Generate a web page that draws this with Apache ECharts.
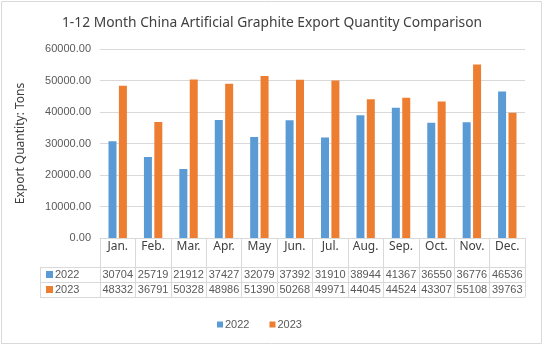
<!DOCTYPE html>
<html>
<head>
<meta charset="utf-8">
<script src="https://cdn.jsdelivr.net/npm/echarts@6/dist/echarts.min.js"></script>
<style>
html,body{margin:0;padding:0;background:#fff;}
#c{width:544px;height:347px;}
</style>
</head>
<body>
<div id="c"></div>
<script>
const titleText = '1-12 Month China Artificial Graphite Export Quantity Comparison';
const yAxisName = 'Export Quantity: Tons';
const months = ['Jan.','Feb.','Mar.','Apr.','May','Jun.','Jul.','Aug.','Sep.','Oct.','Nov.','Dec.'];
const seriesNames = ['2022','2023'];
const values2022 = [30704,25719,21912,37427,32079,37392,31910,38944,41367,36550,36776,46536];
const values2023 = [48332,36791,50328,48986,51390,50268,49971,44045,44524,43307,55108,39763];
const colors = ['#5b9bd5','#ed7d31'];

const chart = echarts.init(document.getElementById('c'), null, {renderer:'canvas'});
const lineCol = '#d9d9d9';
const numFont = 'Liberation Sans';
const txtFont = 'Noto Sans';

function rowAxis(data, offset, show) {
  return {
    type:'category', gridIndex:0, position:'bottom', offset: offset,
    data: data.map(String),
    axisLine:{show:true, lineStyle:{color:lineCol, width:1}},
    axisTick:{show: show, length:15, interval:0, alignWithLabel:false, lineStyle:{color:lineCol}},
    axisLabel:{show: show, interval:0, margin:2, fontSize:11, color:'#595959', fontFamily:numFont, verticalAlign:'top'},
    splitLine:{show:false}
  };
}

const option = {
  backgroundColor:'#fff',
  animation:false,
  title:{
    text:titleText, left:'center', top:11,
    textStyle:{fontFamily:txtFont, fontSize:13.8, fontWeight:'normal', color:'#404040'}
  },
  legend:{
    data:seriesNames, left:212, top:314, icon:'rect', itemWidth:6, itemHeight:6, itemGap:20,
    textStyle:{fontFamily:numFont, fontSize:11, color:'#595959', padding:[0,0,0,-3]}
  },
  grid:{left:100, right:19, top:49, bottom:109, containLabel:false},
  xAxis:[
    {
      type:'category', data:months, position:'bottom',
      axisLine:{show:true, lineStyle:{color:lineCol}},
      axisTick:{show:true, length:29, interval:0, alignWithLabel:false, lineStyle:{color:lineCol}},
      axisLabel:{interval:0, margin:3, fontSize:12, color:'#404040', fontFamily:txtFont, verticalAlign:'top'},
      splitLine:{show:false}
    },
    rowAxis(values2022, 29, true),
    rowAxis(values2023, 44, true),
    rowAxis(values2023, 59, false)
  ],
  yAxis:{
    type:'value', min:0, max:60000, interval:10000,
    name:yAxisName, nameLocation:'middle', nameGap:73, nameRotate:90,
    nameTextStyle:{fontFamily:txtFont, fontSize:12, color:'#404040'},
    axisLine:{show:false}, axisTick:{show:false},
    axisLabel:{formatter:v=>v.toFixed(2), fontSize:11, color:'#595959', fontFamily:numFont, margin:9},
    splitLine:{lineStyle:{color:lineCol}}
  },
  series:[
    {name:seriesNames[0], type:'bar', data:values2022, xAxisIndex:0, barWidth:8, barGap:'30%', itemStyle:{color:colors[0]}},
    {name:seriesNames[1], type:'bar', data:values2023, xAxisIndex:0, barWidth:8, barGap:'30%', itemStyle:{color:colors[1]}}
  ],
  graphic:[
    {type:'rect', shape:{x:1.5,y:1.5,width:540,height:342}, style:{fill:'none', stroke:lineCol, lineWidth:1}, silent:true},
    {type:'line', shape:{x1:40,y1:267.5,x2:100,y2:267.5}, style:{stroke:lineCol}},
    {type:'line', shape:{x1:40,y1:282.5,x2:100,y2:282.5}, style:{stroke:lineCol}},
    {type:'line', shape:{x1:40,y1:297.5,x2:100,y2:297.5}, style:{stroke:lineCol}},
    {type:'line', shape:{x1:40.5,y1:267,x2:40.5,y2:298}, style:{stroke:lineCol}},
    {type:'rect', shape:{x:46,y:271,width:7,height:7}, style:{fill:colors[0]}},
    {type:'rect', shape:{x:46,y:286,width:7,height:7}, style:{fill:colors[1]}},
    {type:'text', x:55, y:275, style:{text:seriesNames[0], font:'11px "Liberation Sans"', fill:'#595959', verticalAlign:'middle'}},
    {type:'text', x:55, y:290, style:{text:seriesNames[1], font:'11px "Liberation Sans"', fill:'#595959', verticalAlign:'middle'}}
  ]
};
chart.setOption(option);
</script>
</body>
</html>
